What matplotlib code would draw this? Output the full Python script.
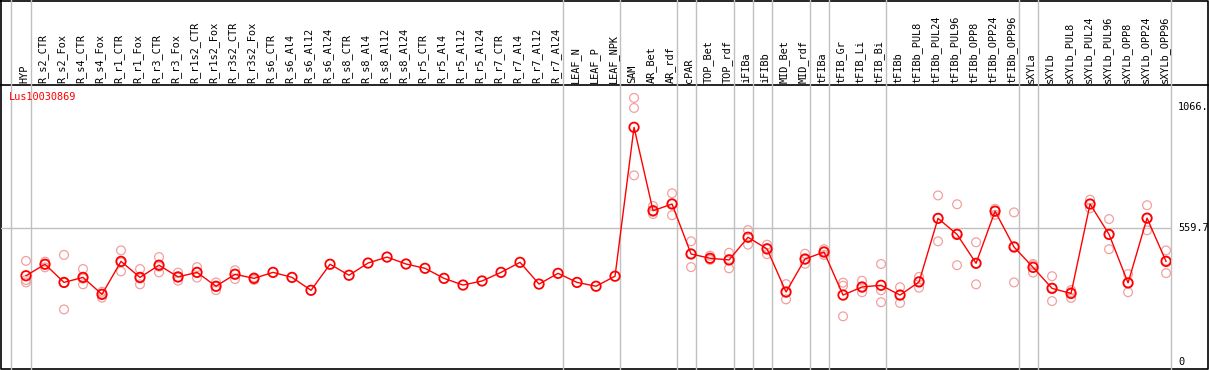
import matplotlib
matplotlib.use("Agg")
import matplotlib.pyplot as plt
import numpy as np

gene = "Lus10030869"

samples = [
    "HYP", "R_s2_CTR", "R_s2_Fox", "R_s4_CTR", "R_s4_Fox", "R_r1_CTR", "R_r1_Fox",
    "R_r3_CTR", "R_r3_Fox", "R_r1s2_CTR", "R_r1s2_Fox", "R_r3s2_CTR", "R_r3s2_Fox",
    "R_s6_CTR", "R_s6_Al4", "R_s6_Al12", "R_s6_Al24", "R_s8_CTR", "R_s8_Al4",
    "R_s8_Al12", "R_s8_Al24", "R_r5_CTR", "R_r5_Al4", "R_r5_Al12", "R_r5_Al24",
    "R_r7_CTR", "R_r7_Al4", "R_r7_Al12", "R_r7_Al24", "LEAF_N", "LEAF_P", "LEAF_NPK",
    "SAM", "AR_Bet", "AR_rdf", "cPAR", "TOP_Bet", "TOP_rdf", "iFIBa", "iFIBb",
    "MID_Bet", "MID_rdf", "tFIBa", "tFIB_Gr", "tFIB_Li", "tFIB_Bi", "tFIBb",
    "tFIBb_PUL8", "tFIBb_PUL24", "tFIBb_PUL96", "tFIBb_OPP8", "tFIBb_OPP24",
    "tFIBb_OPP96", "sXYLa", "sXYLb", "sXYLb_PUL8", "sXYLb_PUL24", "sXYLb_PUL96",
    "sXYLb_OPP8", "sXYLb_OPP24", "sXYLb_OPP96",
]

# how many samples sit in each group between the grey separators
group_sizes = [1, 28, 3, 3, 1, 2, 1, 1, 2, 1, 3, 7, 1, 7]

means = [
    361, 409, 333, 354, 283, 421, 354, 405, 356, 375, 317, 367, 350,
    375, 354, 300, 409, 363, 414, 439, 410, 392, 350, 322, 339, 375, 417, 326, 371,
    333, 317, 359,
    982, 633, 661, 452, 434, 427, 522, 473, 293, 431, 460,
    280, 314, 321, 280, 335, 601, 534, 413, 631, 481,
    396, 308, 287, 661, 534, 331, 602, 421,
]

replicates = [
    [423, 343, 333], [420, 409, 396], [448, 332, 220], [389, 349, 325],
    [294, 286, 269], [467, 417, 379], [389, 349, 325], [439, 399, 375],
    [374, 353, 340], [397, 375, 353], [333, 315, 301], [384, 369, 347],
    [354, 350, 343],
    [], [], [], [], [], [], [], [], [], [], [], [], [], [], [], [], [], [], [],
    [1105, 1063, 781], [653, 628, 619], [706, 664, 614], [505, 453, 397],
    [445, 431, 427], [457, 431, 392], [552, 522, 491], [491, 477, 451],
    [326, 290, 262], [453, 428, 411], [472, 463, 448],
    [332, 319, 191], [340, 310, 292], [410, 300, 250], [313, 282, 247],
    [356, 338, 311], [697, 601, 505], [660, 538, 405], [501, 413, 325],
    [641, 633, 616], [626, 484, 333],
    [410, 405, 374], [359, 311, 255], [301, 293, 268], [679, 661, 643],
    [598, 533, 472], [368, 332, 292], [656, 601, 551], [467, 424, 372],
]

y_labels = ["1066.", "559.7", "0"]
y_label_vals = [1066.0, 559.7, 0.0]

W, H = 1209, 370
fig = plt.figure(figsize=(W / 100, H / 100), dpi=100)
font = "DejaVu Sans Mono"
fs = 7.4

# outer frame + header line, drawn in pixel space
bg = fig.add_axes([0, 0, 1, 1])
bg.set_xlim(0, W)
bg.set_ylim(H, 0)
bg.axis("off")
bg.plot([1, W - 1, W - 1, 1, 1], [0.5, 0.5, 369, 369, 0.5], color="black", lw=1.2)
bg.plot([1, W - 1], [85, 85], color="black", lw=1.2)

ax = fig.add_axes([1 / W, 1 / H, 1170 / W, 284 / H])
ax.set_xlim(-1.316, 60.26)
ax.set_ylim(-29.3, 1159)
ax.axis("off")

top_frac = 1 + 85 / 284
bounds = [-0.78] + list(np.cumsum(group_sizes) - 0.75)
for b in bounds:
    ax.axvline(b, ymin=0, ymax=top_frac, color="#c0c0c0", lw=1.0, clip_on=False, zorder=1)
ax.axhline(559.7, color="#c0c0c0", lw=1.0, zorder=1)

x = np.arange(len(samples))
for i, reps in enumerate(replicates):
    if reps:
        ax.scatter([i] * len(reps), reps, s=40, facecolors="none",
                   edgecolors="#f2a0a0", linewidths=0.9, zorder=2)
ax.plot(x, means, color="red", lw=1.0, zorder=3)
ax.scatter(x, means, s=46, facecolors="none", edgecolors="red", linewidths=1.3, zorder=4)

for i, name in enumerate(samples):
    ax.text(i - 0.1, 1 + 2 / 284, name, rotation=90, ha="center", va="bottom",
            fontsize=fs, family=font, transform=ax.get_xaxis_transform(), clip_on=False)

for lab, v in zip(y_labels, y_label_vals):
    ax.text(1 + 7 / 1170, v, lab, ha="left", va="center", fontsize=fs, family=font,
            transform=ax.get_yaxis_transform(), clip_on=False)

ax.text(8 / 1170, 1 - 12 / 284, gene, color="red", ha="left", va="center",
        fontsize=fs, family=font, transform=ax.transAxes)

fig.savefig("out.png", dpi=100)
